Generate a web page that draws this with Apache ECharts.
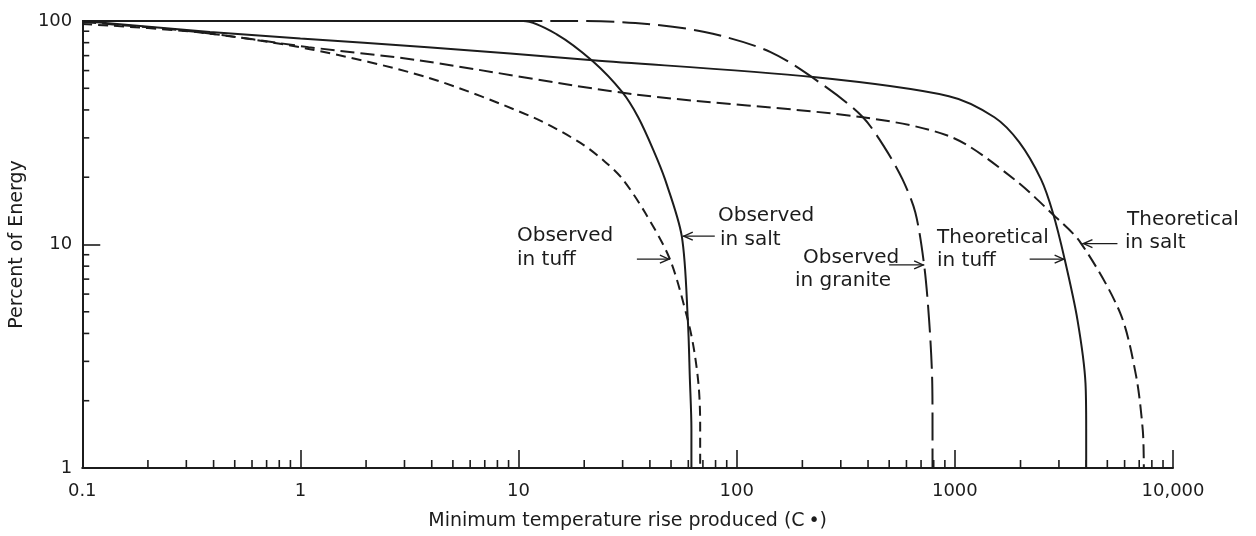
<!DOCTYPE html>
<html><head><meta charset="utf-8">
<script src="https://cdn.jsdelivr.net/npm/echarts@6/dist/echarts.min.js"></script>
<style>html,body{margin:0;padding:0;background:#fff}#c{width:1256px;height:536px}</style>
</head><body><div id="c"></div>
<script>
// ---- data (x: minimum temperature rise, °C ; y: percent of energy) ----
const xTickLabels = ['0.1', '1', '10', '100', '1000', '10,000'];
const yTickLabels = ['1', '10', '100'];
const xMinorMultipliers = [2, 3, 4, 5, 6, 7, 8, 9];
const xDecades = [0.1, 1, 10, 100, 1000];
const yDecades = [1, 10];

const observedTuff = [[0.1, 97], [0.34, 89], [1.09, 75], [3.8, 56], [11.7, 37], [19.3, 28.4], [25.1, 23.3], [30, 19.6], [38, 13.9], [49.4, 8.6], [59.7, 4.6], [64, 3.3], [67, 2.3], [68, 1.6], [68, 1]];
const observedSalt = [[0.1, 100], [10.5, 100], [14.9, 87.4], [21.9, 66], [29.9, 48], [35.4, 37], [41.4, 26.6], [46.9, 19.6], [56, 10.9], [59.7, 4.6], [61, 2.5], [62, 1.5], [62, 1]];
const observedGranite = [[0.1, 100], [16.5, 100], [34.3, 98], [71.3, 89.3], [143, 72.6], [257, 50.6], [379, 37.1], [476, 27.2], [575, 19.6], [659, 13.9], [723, 8.1], [762, 4.6], [787, 2.5], [790, 1.5], [790, 1]];
const theoreticalTuff = [[0.1, 100], [0.385, 89.3], [1.0, 83.5], [3.83, 76.4], [21.9, 66.8], [224, 56.1], [939, 46.1], [1518, 37.1], [1972, 28.7], [2481, 19.6], [2812, 13.9], [3186, 8.6], [3648, 4.6], [3970, 2.4], [4000, 1.5], [4000, 1]];
const theoreticalSalt = [[0.1, 99], [0.336, 89.3], [1.09, 76.4], [3.44, 66.8], [33.3, 47.1], [378, 37.1], [968, 30.2], [1871, 19.6], [2754, 13.9], [3767, 10.2], [5717, 4.96], [6761, 2.61], [7272, 1.47], [7350, 1]];

// ---- build ----
const INK = '#1c1c1c';
const FONT = 'DejaVu Sans';

const minorTicks = [];
xDecades.forEach(d => xMinorMultipliers.forEach(m => minorTicks.push([m * d, 1, 0])));
yDecades.forEach(d => xMinorMultipliers.forEach(m => minorTicks.push([0.1, m * d, 1])));

function decadeIndex(v, lowExp) { return Math.round(Math.log10(v)) - lowExp; }

function curve(name, data, dash) {
  return {
    name, type: 'line', data, symbol: 'none', smooth: 0.3,
    lineStyle: { color: INK, width: 2, type: dash || 'solid' },
    clip: false, silent: true, animation: false, z: 3
  };
}

const chart = echarts.init(document.getElementById('c'), null, { renderer: 'canvas' });
chart.setOption({
  backgroundColor: '#fff',
  animation: false,
  grid: { left: 72, right: 83, top: 21, bottom: 68, containLabel: false },
  xAxis: {
    type: 'log', logBase: 10, min: 0.1, max: 10000, splitNumber: 5,
    name: 'Minimum temperature rise produced (C\u2009\u2022)', nameLocation: 'middle', nameGap: 44,
    nameTextStyle: { fontFamily: FONT, fontSize: 19, color: INK },
    axisLine: { show: true, lineStyle: { color: INK, width: 2 } },
    axisTick: { show: true, inside: true, length: 18, lineStyle: { color: INK, width: 1.6 } },
    axisLabel: { margin: 14, fontFamily: FONT, fontSize: 18, color: INK,
      formatter: v => xTickLabels[decadeIndex(v, -1)] },
    splitLine: { show: false }
  },
  yAxis: {
    type: 'log', logBase: 10, min: 1, max: 100, splitNumber: 2,
    name: 'Percent of Energy', nameLocation: 'middle', nameGap: 42,
    nameTextStyle: { fontFamily: FONT, fontSize: 19, color: INK },
    axisLine: { show: true, lineStyle: { color: INK, width: 2 } },
    axisTick: { show: true, inside: true, length: 18, lineStyle: { color: INK, width: 1.6 } },
    axisLabel: { margin: 10, fontFamily: FONT, fontSize: 18, color: INK,
      formatter: v => yTickLabels[decadeIndex(v, 0)] },
    splitLine: { show: false }
  },
  series: [
    curve('Observed in tuff', observedTuff, [10, 6]),
    curve('Observed in salt', observedSalt),
    curve('Observed in granite', observedGranite, [28, 8]),
    curve('Theoretical in tuff', theoreticalTuff),
    curve('Theoretical in salt', theoreticalSalt, [14, 6]),
    {
      type: 'custom', data: minorTicks, encode: { x: 0, y: 1 }, clip: false, silent: true, z: 4,
      renderItem: (params, api) => {
        const kind = api.value(2);
        const p = api.coord([api.value(0), api.value(1)]);
        const shape = kind === 0
          ? { x1: p[0], y1: p[1], x2: p[0], y2: p[1] - 8 }
          : { x1: p[0], y1: p[1], x2: p[0] + 7, y2: p[1] };
        return { type: 'line', shape, style: { stroke: INK, lineWidth: 1.6 } };
      }
    }
  ]
});

// ---- annotations: labels and arrows pointing at the curves ----
const notes = [
  { lines: [['Observed', 517, 236], ['in tuff', 517, 260]], tip: [49.4, 8.6], tail: -33 },
  { lines: [['Observed', 718, 216], ['in salt', 720, 240]], tip: [56.6, 10.9], tail: 32 },
  { lines: [['Observed', 803, 258], ['in granite', 795, 281]], tip: [723, 8.1], tail: -35 },
  { lines: [['Theoretical', 937, 238], ['in tuff', 937, 261]], tip: [3186, 8.6], tail: -35 },
  { lines: [['Theoretical', 1127, 220], ['in salt', 1125, 243]], tip: [3845, 10.1], tail: 35 }
];
const g = [];
notes.forEach(n => {
  n.lines.forEach(([t, x, y]) => g.push({
    type: 'text', silent: true, z: 10,
    style: { text: t, x, y, fill: INK, font: '20px "' + FONT + '"', textAlign: 'left', textVerticalAlign: 'middle' }
  }));
  const p = chart.convertToPixel({ xAxisIndex: 0, yAxisIndex: 0 }, n.tip);
  const tx = p[0] + n.tail, ty = p[1];
  const dir = n.tail < 0 ? -1 : 1;
  g.push({ type: 'line', silent: true, z: 10, shape: { x1: tx, y1: ty, x2: p[0], y2: p[1] },
    style: { stroke: INK, lineWidth: 1.2 } });
  g.push({ type: 'polyline', silent: true, z: 10,
    shape: { points: [[p[0] + dir * 10, p[1] - 4], [p[0] + dir * 1, p[1]], [p[0] + dir * 10, p[1] + 4]] },
    style: { stroke: INK, lineWidth: 1.4, fill: null } });
});
chart.setOption({ graphic: { elements: g } });
</script>
</body></html>
